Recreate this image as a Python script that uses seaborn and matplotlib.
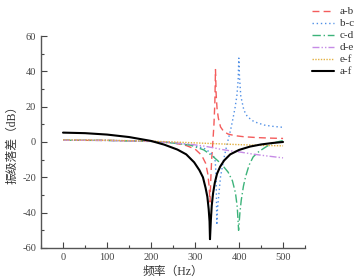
import matplotlib
matplotlib.use("Agg")
import matplotlib.pyplot as plt
import seaborn as sns
import numpy as np
from matplotlib.ticker import MultipleLocator

f_ab = [0, 100, 200, 250, 280, 300, 315, 324, 329, 332, 334, 336, 338, 340, 343, 345, 346.5, 348, 350, 353, 358, 365, 375, 390, 410, 440, 470, 500]
v_ab = [1.0, 0.9, 0.4, -0.5, -2.0, -4.0, -7.5, -12.0, -18.0, -25.0, -34.0, -20.0, -9.0, -2.0, 10.0, 22.0, 41.0, 27.0, 19.0, 13.5, 8.5, 6.0, 4.5, 3.6, 3.0, 2.5, 2.2, 2.0]

f_bc = [0, 100, 200, 250, 290, 320, 335, 342, 346, 348, 349.5, 351, 354, 358, 365, 373, 381, 386, 391, 395, 398, 399.5, 401, 404, 411, 419, 434, 457, 475, 500]
v_bc = [1.0, 0.9, 0.4, -0.3, -1.5, -3.5, -6.0, -8.0, -11.0, -20.0, -47.0, -38.0, -30.0, -19.6, -10.0, -1.0, 7.0, 13.0, 19.5, 26.0, 35.0, 47.5, 37.0, 26.0, 18.0, 14.3, 11.5, 9.6, 8.9, 8.3]

f_cd = [0, 100, 200, 250, 290, 320, 340, 360, 375, 385, 392, 396, 399, 402, 405, 410, 415, 423, 432, 442, 456, 472, 486, 500]
v_cd = [1.0, 0.9, 0.3, -0.6, -1.8, -4.5, -8.0, -12.5, -17.0, -22.0, -29.0, -37.0, -50.0, -40.0, -33.0, -25.0, -19.5, -13.0, -8.5, -6.0, -3.6, -1.1, 0.0, 0.8]

f_de = [0, 100, 200, 250, 290, 320, 340, 360, 380, 400, 430, 460, 500]
v_de = [1.0, 0.9, 0.3, -0.4, -1.3, -2.3, -3.2, -4.2, -5.0, -5.6, -6.8, -7.8, -9.0]

f_ef = [0, 100, 200, 250, 300, 350, 400, 450, 500]
v_ef = [1.2, 1.0, 0.5, 0.0, -0.5, -1.0, -1.5, -1.9, -2.2]

f_af = [0, 50, 100, 150, 200, 230, 260, 280, 298, 310, 318, 324, 328, 331, 333, 334, 336, 338, 341, 345, 350, 357, 366, 380, 400, 425, 450, 475, 500]
v_af = [5.3, 5.0, 4.2, 2.8, 0.6, -1.5, -4.3, -7.0, -11.5, -16.0, -20.0, -26.0, -31.0, -38.0, -45.0, -55.0, -44.0, -36.0, -29.0, -23.0, -18.0, -14.0, -10.5, -7.0, -4.5, -2.6, -1.4, -0.6, 0.0]

labels = ['a-b', 'b-c', 'c-d', 'd-e', 'e-f', 'a-f']
series = [(f_ab, v_ab), (f_bc, v_bc), (f_cd, v_cd), (f_de, v_de), (f_ef, v_ef), (f_af, v_af)]
colors = ['#f45c5c', '#4f8fe6', '#3cb37a', '#c68be6', '#e3b142', '#000000']
styles = [(0, (5, 3)), (0, (1, 2)), (0, (6, 2, 1, 2)), (0, (5, 1.5, 1, 1.5, 1, 1.5)), (0, (1, 1)), '-']
widths = [1.0, 1.0, 1.0, 1.0, 1.0, 1.5]

sns.set_style('ticks')
plt.rcParams['font.family'] = ['Liberation Serif', 'Noto Sans CJK SC']
plt.rcParams['axes.unicode_minus'] = False

fig = plt.figure(figsize=(3.61, 2.78), dpi=100)
ax = fig.add_axes([0.1136, 0.108, 0.7314, 0.7625])

for (f, v), lab, c, ls, lw in zip(series, labels, colors, styles, widths):
    sns.lineplot(x=f, y=v, ax=ax, color=c, linestyle=ls, linewidth=lw, label=lab, sort=False)

ax.set_xlim(-50, 550)
ax.set_ylim(-60, 60)
ax.xaxis.set_major_locator(MultipleLocator(100))
ax.xaxis.set_minor_locator(MultipleLocator(50))
ax.yaxis.set_major_locator(MultipleLocator(20))
ax.yaxis.set_minor_locator(MultipleLocator(10))
ax.tick_params(which='major', direction='in', length=4, width=0.8, colors='#444444', labelsize=7.5)
ax.tick_params(which='minor', direction='in', length=2, width=0.8, colors='#444444')
for s in ['top', 'right']:
    ax.spines[s].set_visible(False)
for s in ['left', 'bottom']:
    ax.spines[s].set_color('#555555')
    ax.spines[s].set_linewidth(1.0)

ax.set_xlabel('频率（Hz）', fontsize=8.5, color='#333333', labelpad=3)
ax.set_ylabel('振级落差（dB）', fontsize=8.5, color='#333333', labelpad=3)

handles, labs = ax.get_legend_handles_labels()
ax.get_legend().remove()
fig.legend(handles, labs, loc='upper left', bbox_to_anchor=(0.846, 1.0), frameon=False,
           fontsize=8, handlelength=2.0, handletextpad=0.5, labelspacing=0.2,
           borderaxespad=0.2, labelcolor='#333333')

fig.savefig('out.png', dpi=100)
